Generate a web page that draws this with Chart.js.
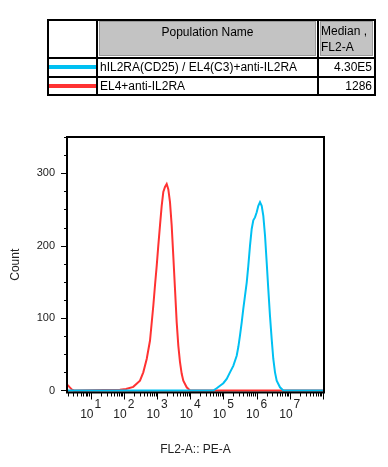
<!DOCTYPE html>
<html>
<head>
<meta charset="utf-8">
<title>FL2-A histogram</title>
<script src="https://cdn.jsdelivr.net/npm/chart.js@4.4.0/dist/chart.umd.min.js"></script>
<style>
    body { margin: 0; background: #fff; }
    #wrap { position: relative; width: 388px; height: 467px; font-family: "Liberation Sans", Arial, sans-serif; }
    #flowChart { position: absolute; left: 0; top: 0; }
    .ln { position: absolute; background: #000; }
    .gray { position: absolute; background: #c3c3c3; border: 1px solid #9a9a9a; box-sizing: border-box; }
    .txt { position: absolute; font-size: 12px; line-height: 14px; color: #000; white-space: nowrap; }
    .sw { position: absolute; height: 4px; }
</style>
</head>
<body>
<div id="wrap">
    <canvas id="flowChart" width="388" height="467"></canvas>
    <div id="popTable"></div>
</div>
<script>
// Poblaciones (tabla superior)
const popNames = ['hIL2RA(CD25) / EL4(C3)+anti-IL2RA', 'EL4+anti-IL2RA'];
const popMedians = ['4.30E5', '1286'];
const popColors = ['#00c0f2', '#ff3232'];

// Histograma hIL2RA(CD25) / EL4(C3)+anti-IL2RA (intensidad FL2-A, conteo)
const cyanFluor = [1.95, 49660, 62900, 79100, 99500, 1.26e5, 1.58e5, 1.99e5, 2.52e5, 2.82e5,
    3.17e5, 3.57e5, 3.99e5, 4.49e5, 5.05e5, 5.64e5, 6.35e5, 7.14e5, 7.98e5, 8.98e5,
    1.01e6, 1.13e6, 1.27e6, 1.43e6, 1.60e6, 1.80e6, 2.02e6, 2.26e6, 2.54e6, 2.86e6,
    3.20e6, 3.60e6, 4.05e6, 5.09e6, 6.40e6, 1.0e8];
const cyanCount = [0, 0, 3, 6.6, 10, 16, 25, 34, 48, 60,
    76, 94, 113, 131, 149, 172, 200, 223, 235, 239,
    246, 255, 260, 255, 241, 214, 177, 140, 103, 71,
    43.5, 25, 13.5, 4.4, 0, 0];

// Histograma EL4+anti-IL2RA
const redFluor = [1.95, 2.07, 2.38, 2.73, 3.14, 76, 116, 192, 306, 385,
    488, 614, 772, 867, 977, 1091, 1228, 1381, 1544, 1738,
    1955, 2185, 2457, 2763, 3089, 3480, 3915, 4378, 4923, 5540,
    6194, 7836, 9861, 1.0e8];
const redCount = [8, 7, 4, 1, 0, 1, 2, 5, 13.5, 25,
    43.5, 69, 117, 145, 172, 200, 228, 255, 274, 281,
    285, 278, 260, 228, 186, 140, 94, 62, 39, 23,
    13.5, 4.4, 0, 0];

// Ejes
const decadeLabels = [1, 2, 3, 4, 5, 6, 7];
const countTicks = [0, 25, 50, 75, 100, 125, 150, 175, 200, 225, 250, 275, 300, 325, 350];

const FlowHistogram = {
    font: '"Liberation Sans", Arial, sans-serif',
    textColor: '#222',

    // Tabla de poblaciones en HTML
    buildTable: function() {
        const t = document.getElementById('popTable');
        const add = (cls, style, text) => {
            const d = document.createElement('div');
            d.className = cls;
            Object.assign(d.style, style);
            if (text) d.textContent = text;
            t.appendChild(d);
            return d;
        };

        // celdas grises del encabezado
        add('gray', { left: '99px', top: '21px', width: '217px', height: '35px' });
        add('gray', { left: '320px', top: '21px', width: '53px', height: '35px' });

        // lineas de la tabla
        [19, 57, 76, 94].forEach(y => add('ln', { left: '47px', top: y + 'px', width: '329px', height: '2px' }));
        [47, 96, 317, 374].forEach(x => add('ln', { left: x + 'px', top: '19px', width: '2px', height: '77px' }));

        add('txt', { left: '99px', top: '25px', width: '217px', textAlign: 'center' }, 'Population Name');
        add('txt', { left: '321px', top: '24px' }, 'Median ,');
        add('txt', { left: '321px', top: '40px' }, 'FL2-A');

        const rowTop = [60, 79];
        popNames.forEach((name, i) => {
            add('sw', { left: '49px', width: '47px', top: (rowTop[i] + 5) + 'px', background: popColors[i] });
            add('txt', { left: '100px', top: rowTop[i] + 'px' }, name);
            add('txt', { left: '320px', width: '52px', top: rowTop[i] + 'px', textAlign: 'right' }, popMedians[i]);
        });
    },

    // Marco, marcas de ejes y etiquetas 10^n
    axesPlugin: {
        id: 'flowAxes',
        afterDraw(chart) {
            const { ctx, chartArea: a, scales: { x, y } } = chart;
            ctx.save();
            ctx.strokeStyle = '#000';
            ctx.lineWidth = 2;
            ctx.strokeRect(a.left, a.top, a.right - a.left, a.bottom - a.top);

            ctx.lineWidth = 1;
            ctx.beginPath();
            countTicks.forEach(v => {
                const py = Math.round(y.getPixelForValue(v)) + 0.5;
                const len = v % 100 === 0 ? 6 : 3;
                ctx.moveTo(a.left - len, py);
                ctx.lineTo(a.left, py);
            });
            for (let n = 0; n <= 8; n++) {
                for (let k = 1; k <= 9; k++) {
                    const v = k * Math.pow(10, n);
                    if (v < x.min || v > x.max) continue;
                    const px = Math.round(x.getPixelForValue(v)) + 0.5;
                    const len = k === 1 ? 6 : 3;
                    ctx.moveTo(px, a.bottom);
                    ctx.lineTo(px, a.bottom + 1 + len);
                }
            }
            ctx.stroke();

            ctx.fillStyle = FlowHistogram.textColor;
            ctx.font = '12px ' + FlowHistogram.font;
            ctx.textBaseline = 'middle';
            ctx.textAlign = 'left';
            decadeLabels.forEach(n => {
                const px = x.getPixelForValue(Math.pow(10, n));
                const w1 = ctx.measureText('10').width;
                const w2 = ctx.measureText(String(n)).width;
                const start = px - (w1 + 1 + w2) / 2;
                ctx.fillText('10', start, 415);
                ctx.fillText(String(n), start + w1 + 1, 405);
            });
            ctx.restore();
        }
    },

    initializeChart: function() {
        const ctx = document.getElementById('flowChart');
        const toPoints = (xs, ys) => xs.map((v, i) => ({ x: v, y: ys[i] }));

        new Chart(ctx, {
            type: 'line',
            data: {
                datasets: [
                    {
                        label: popNames[0],
                        data: toPoints(cyanFluor, cyanCount),
                        borderColor: popColors[0],
                        borderWidth: 2,
                        pointRadius: 0,
                        tension: 0
                    },
                    {
                        label: popNames[1],
                        data: toPoints(redFluor, redCount),
                        borderColor: popColors[1],
                        borderWidth: 2,
                        pointRadius: 0,
                        tension: 0
                    }
                ]
            },
            options: {
                responsive: false,
                animation: false,
                devicePixelRatio: 1,
                layout: { padding: { left: 0, top: 137, right: 64, bottom: 0 } },
                plugins: { legend: { display: false }, tooltip: { enabled: false } },
                scales: {
                    x: {
                        type: 'logarithmic',
                        min: 1.93,
                        max: 1.08e8,
                        afterFit: s => { s.height = 74.5; },
                        grid: { display: false, drawTicks: false },
                        border: { display: false },
                        ticks: { display: false },
                        title: {
                            display: true,
                            text: 'FL2-A:: PE-A',
                            color: this.textColor,
                            font: { size: 12, family: this.font },
                            padding: { top: 0, bottom: 10 }
                        }
                    },
                    y: {
                        min: -2.8,
                        max: 350,
                        afterFit: s => { s.width = 67; },
                        afterBuildTicks: s => { s.ticks = countTicks.map(v => ({ value: v })); },
                        grid: { display: false, drawTicks: false },
                        border: { display: false },
                        ticks: {
                            padding: 12,
                            color: this.textColor,
                            font: { size: 11, family: this.font },
                            callback: v => (v % 100 === 0) ? String(v) : ''
                        },
                        title: {
                            display: true,
                            text: 'Count',
                            color: this.textColor,
                            font: { size: 12, family: this.font },
                            padding: { top: 8, bottom: 0 }
                        }
                    }
                }
            },
            plugins: [this.axesPlugin]
        });
    }
};

FlowHistogram.buildTable();
FlowHistogram.initializeChart();
</script>
</body>
</html>
